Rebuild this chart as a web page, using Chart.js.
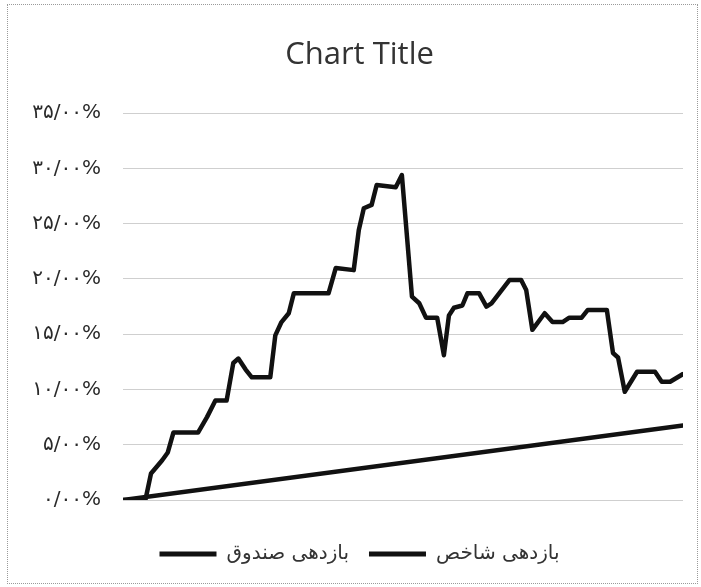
<!DOCTYPE html>
<html>
<head>
<meta charset="utf-8">
<script src="https://cdn.jsdelivr.net/npm/chart.js@4.4.1/dist/chart.umd.min.js"></script>
<style>
  html, body { margin: 0; padding: 0; background: #fff; }
  #wrap { position: relative; width: 701px; height: 587px; }
  #frame { position: absolute; left: 7px; top: 4px; width: 689px; height: 578px; border: 1px dotted #9a9a9a; pointer-events: none; }
  canvas { position: absolute; left: 0; top: 0; }
</style>
</head>
<body>
<div id="wrap">
  <canvas id="c" width="701" height="587"></canvas>
  <div id="frame"></div>
</div>
<script>
// Series names
const seriesNames = ['بازدهی صندوق', 'بازدهی شاخص'];

// Fund return (%): day index and value
const fundDays = [0,4,5,7,8,9,13.4,15,16.5,18.5,19.7,20.6,21.9,23,26.3,27.2,28.3,29.6,30.5,36.7,38,41.2,42.1,43,44.4,45.3,48.7,49.8,51.6,52.9,54.1,56.1,57.3,58.2,59.1,60.6,61.5,63.6,64.9,65.8,69,71.1,72,73.1,75.3,76.7,78.5,79.7,81.9,83,86.4,87.5,88.4,89.6,91.8,95,96.2,97.7,100];
const fundValues = [0,0,2.4,3.6,4.3,6.1,6.1,7.5,9.0,9.0,12.4,12.8,11.8,11.1,11.1,14.9,16.1,16.9,18.7,18.7,21.0,20.8,24.4,26.4,26.7,28.5,28.3,29.4,18.4,17.8,16.5,16.5,13.1,16.7,17.4,17.6,18.7,18.7,17.5,17.8,19.9,19.9,19.0,15.4,16.9,16.1,16.1,16.5,16.5,17.2,17.2,13.3,12.9,9.8,11.6,11.6,10.7,10.7,11.4];

// Index return (%)
const indexDays = [0, 100];
const indexValues = [0, 6.75];

// Y tick values
const yTicks = [0, 5, 10, 15, 20, 25, 30, 35];

const faDigits = ['۰','۱','۲','۳','۴','۵','۶','۷','۸','۹'];
function toFa(v) {
  return v.toFixed(2).replace(/[0-9]/g, d => faDigits[+d]).replace('.', '/') + '%';
}

const toXY = (xs, ys) => xs.map((x, i) => ({ x: x, y: ys[i] }));

new Chart(document.getElementById('c'), {
  type: 'line',
  data: {
    datasets: [
      {
        label: seriesNames[0],
        data: toXY(fundDays, fundValues),
        borderColor: '#111',
        backgroundColor: '#111',
        borderWidth: 4.5,
        pointRadius: 0,
        tension: 0,
        borderJoinStyle: 'round',
        borderCapStyle: 'round'
      },
      {
        label: seriesNames[1],
        data: toXY(indexDays, indexValues),
        borderColor: '#111',
        backgroundColor: '#111',
        borderWidth: 4.5,
        pointRadius: 0,
        tension: 0,
        borderCapStyle: 'round'
      }
    ]
  },
  options: {
    responsive: false,
    animation: false,
    layout: { padding: { left: 18, right: 0, top: 0, bottom: 13 } },
    scales: {
      x: {
        type: 'linear',
        min: 0,
        max: 100,
        grid: { display: false },
        border: { display: false },
        ticks: { display: false },
        afterFit: s => { s.height = 24; }
      },
      y: {
        min: 0,
        max: 35,
        afterFit: s => { s.width = 105; },
        afterBuildTicks: s => { s.ticks = yTicks.map(v => ({ value: v })); },
        grid: { color: '#cfcfcf', lineWidth: 1, drawTicks: false },
        border: { display: false },
        ticks: {
          padding: 22,
          color: '#2a2a2a',
          font: { family: 'DejaVu Sans', size: 20 },
          callback: v => toFa(v)
        }
      },
      yRight: {
        position: 'right',
        min: 0,
        max: 35,
        grid: { display: false },
        border: { display: false },
        ticks: { display: false },
        afterFit: s => { s.width = 18; }
      }
    },
    plugins: {
      title: {
        display: true,
        text: 'Chart Title',
        color: '#333',
        font: { family: 'Open Sans', size: 31, weight: 'normal' },
        padding: { top: 37, bottom: 39 }
      },
      legend: {
        display: true,
        position: 'bottom',
        labels: {
          color: '#333',
          font: { family: 'DejaVu Sans', size: 20 },
          boxWidth: 57,
          boxHeight: 5,
          padding: 20,
          generateLabels: chart => Chart.defaults.plugins.legend.labels.generateLabels(chart).map(l => Object.assign(l, { lineWidth: 0 }))
        }
      },
      tooltip: { enabled: false }
    }
  }
});
</script>
</body>
</html>
